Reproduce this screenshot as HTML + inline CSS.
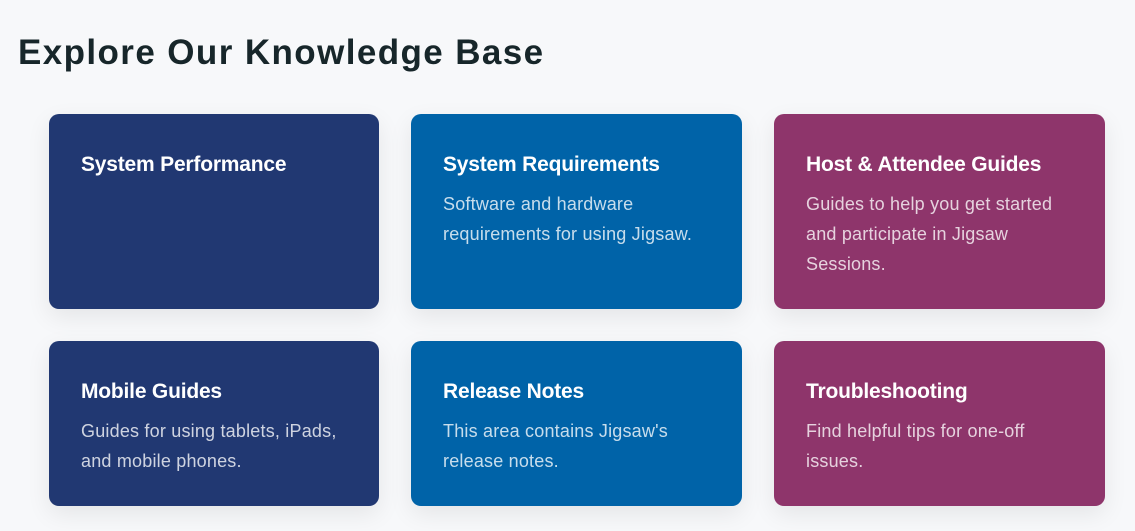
<!DOCTYPE html>
<html><head><style>
body{margin:0;width:1135px;height:531px;background:#f7f8fa;font-family:"Liberation Sans",sans-serif;position:relative;overflow:hidden}
h1{position:absolute;left:18px;top:33px;margin:0;font-size:35px;font-weight:bold;color:#17262a;letter-spacing:1.4px}
.c{position:absolute;border-radius:10px;box-shadow:0 8px 24px rgba(0,0,0,0.08);box-sizing:border-box;padding:38px 32px 0 32px;color:#fff}
.c b{display:block;font-size:21px;line-height:26px;letter-spacing:-0.2px}
.c p{margin:11px 0 0;font-size:18px;line-height:30px;color:rgba(255,255,255,0.78);letter-spacing:0.2px}
.n{background:#213872}.u{background:#0063a8}.m{background:#8e356b}
</style></head><body>
<h1>Explore Our Knowledge Base</h1>
<div class="c n" style="left:49px;top:114px;width:330px;height:195px"><b>System Performance</b></div>
<div class="c u" style="left:411px;top:114px;width:331px;height:195px"><b>System Requirements</b><p>Software and hardware requirements for using Jigsaw.</p></div>
<div class="c m" style="left:774px;top:114px;width:331px;height:195px"><b>Host &amp; Attendee Guides</b><p>Guides to help you get started and participate in Jigsaw Sessions.</p></div>
<div class="c n" style="left:49px;top:341px;width:330px;height:165px"><b>Mobile Guides</b><p>Guides for using tablets, iPads, and mobile phones.</p></div>
<div class="c u" style="left:411px;top:341px;width:331px;height:165px"><b>Release Notes</b><p>This area contains Jigsaw's release notes.</p></div>
<div class="c m" style="left:774px;top:341px;width:331px;height:165px"><b>Troubleshooting</b><p>Find helpful tips for one-off issues.</p></div>
</body></html>
